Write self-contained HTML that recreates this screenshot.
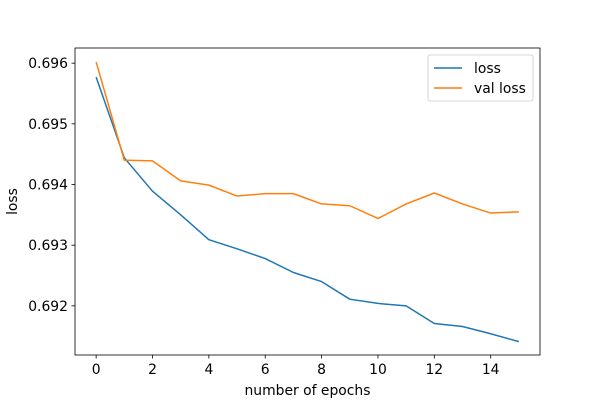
<!DOCTYPE html>
<html><head><meta charset="utf-8"><style>
body{margin:0;background:#fff;}
svg text{font-family:"DejaVu Sans","Liberation Sans",sans-serif;font-size:13.9px;fill:#000;}
</style></head><body>
<svg id="chart" width="600" height="400" xmlns="http://www.w3.org/2000/svg">
<rect width="600" height="400" fill="#fff"/>
<g id="plot"></g>
</svg>
<script>
const epochs=[0,1,2,3,4,5,6,7,8,9,10,11,12,13,14,15];
const lossValues=[0.69577,0.69444,0.69389,0.69350,0.69309,0.69294,0.69278,0.69255,0.69240,0.69211,0.69204,0.69200,0.69171,0.69166,0.69154,0.69141];
const valLossValues=[0.69602,0.69440,0.69439,0.69406,0.69399,0.69381,0.69385,0.69385,0.69368,0.69365,0.69344,0.69368,0.69386,0.69368,0.69353,0.69355];
const xTicks=[0,2,4,6,8,10,12,14];
const yTicks=[0.692,0.693,0.694,0.695,0.696];
const L=75,R=540,T=48,B=355;
const xMin=-0.75,xMax=15.75,yMin=0.69119,yMax=0.69625;
const sx=v=>L+(v-xMin)/(xMax-xMin)*(R-L);
const sy=v=>B-(v-yMin)/(yMax-yMin)*(B-T);
const NS="http://www.w3.org/2000/svg";
const g=document.getElementById('plot');
function mk(tag,attrs,parent){const e=document.createElementNS(NS,tag);for(const k in attrs)e.setAttribute(k,attrs[k]);(parent||g).appendChild(e);return e;}
xTicks.forEach(t=>{
 const x=sx(t);
 const l=mk('line',{x1:x,x2:x,y1:B,y2:B+3.5,stroke:'#000','stroke-width':0.8});
 
 
 const tx=mk('text',{x:x,y:B+19,'text-anchor':'middle'});tx.textContent=t;
 
 
});
yTicks.forEach(t=>{
 const y=sy(t);
 const l=mk('line',{x1:L-3.5,x2:L,y1:y,y2:y,stroke:'#000','stroke-width':0.8});
 
 
 const tx=mk('text',{x:L-7,y:y+5,'text-anchor':'end'});tx.textContent=t.toFixed(3);
 
 
});
function series(vals,color,name){
 const p=mk('polyline',{points:vals.map((v,i)=>sx(epochs[i])+','+sy(v)).join(' '),fill:'none',stroke:color,'stroke-width':1.5,'stroke-linejoin':'round'});
 
 
}
series(lossValues,'#1f77b4','loss-line');
series(valLossValues,'#ff7f0e','val-loss-line');
const frame=mk('rect',{x:L,y:T,width:R-L,height:B-T,fill:'none',stroke:'#000','stroke-width':0.8});


const xl=mk('text',{x:(L+R)/2,y:395,'text-anchor':'middle'});xl.textContent='number of epochs';


const yl=mk('text',{x:17,y:(T+B)/2,'text-anchor':'middle',transform:'rotate(-90 17 '+((T+B)/2)+')'});yl.textContent='loss';


const lg=mk('g',{});


mk('rect',{x:428,y:55,width:105,height:46,rx:2,fill:'#fff',stroke:'#ccc','stroke-width':0.8},lg);
[['loss','#1f77b4',68],['val loss','#ff7f0e',88]].forEach(([n,c,y])=>{
 const e=mk('g',{},lg);
 
 
 mk('line',{x1:434,x2:462,y1:y,y2:y,stroke:c,'stroke-width':1.5},e);
 const t=mk('text',{x:474,y:y+5},e);t.textContent=n;
});
</script>
</body></html>
